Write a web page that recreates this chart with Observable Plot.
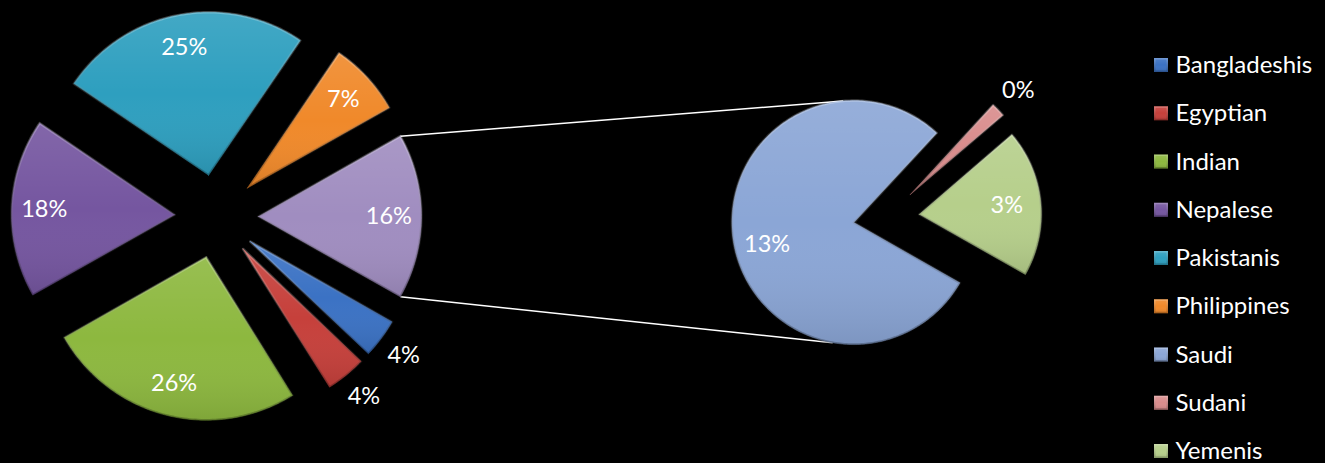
<!DOCTYPE html>
<html>
<head>
<meta charset="utf-8">
<script src="https://cdn.jsdelivr.net/npm/d3@7"></script>
<script src="https://cdn.jsdelivr.net/npm/@observablehq/plot@0.6"></script>
<style>
  html, body { margin: 0; padding: 0; background: #000; }
  #chart svg { display: block; background: #000; }
</style>
</head>
<body>
<div id="chart"></div>
<script>
// ---- Data ----
const mainCategories = ["Bangladeshis", "Egyptian", "Indian", "Nepalese", "Pakistanis", "Philippines"];
const mainValues = [3.9, 4.0, 25.7, 17.7, 25.0, 7.3];
const secondCategories = ["Saudi", "Sudani", "Yemenis"];
const secondValues = [12.9, 0.3, 3.2];
const legendLabels = ["Bangladeshis", "Egyptian", "Indian", "Nepalese", "Pakistanis", "Philippines", "Saudi", "Sudani", "Yemenis"];
const otherLabel = "Other";
const colorDomain = [...legendLabels, otherLabel];
const colorRange = ["#3b72c4", "#c6403b", "#8db83f", "#7556a0", "#2e9fbf", "#f0892a", "#8ba6d6", "#d98c8c", "#b6cf8b", "#a08dc0"];

// ---- Layout ----
const W = 1325, H = 463;
const pie1 = {cx: 216, cy: 216, r: 163, explode: 42};
const pie2 = {cx: 886, cy: 217, r: 122, explode: 33, start: 29.6};
const rad = d => d * Math.PI / 180;

const otherValue = d3.sum(secondValues);
const total1 = d3.sum(mainValues) + otherValue;

function slicesFor(cats, vals, total, startDeg, pie, kind) {
  const out = [];
  let a = startDeg;
  cats.forEach((c, i) => {
    const span = vals[i] / total * 360;
    const a0 = a, a1 = a + span, mid = (a0 + a1) / 2;
    const ax = pie.cx + pie.explode * Math.cos(rad(mid));
    const ay = pie.cy + pie.explode * Math.sin(rad(mid));
    out.push({key: c, value: vals[i], a0, a1, mid, ax, ay, pie, kind, span});
    a = a1;
  });
  return out;
}

const otherSpan = otherValue / total1 * 360;
const slices1 = slicesFor([otherLabel, ...mainCategories], [otherValue, ...mainValues], total1, -otherSpan / 2, pie1, "main");
const slices2 = slicesFor(secondCategories, secondValues, otherValue, pie2.start, pie2, "second");
const allSlices = [...slices1, ...slices2];

// polygon vertices for every slice
const poly = [];
allSlices.forEach((s, si) => {
  poly.push({id: si, key: s.key, x: s.ax, y: s.ay});
  const n = Math.max(2, Math.ceil(s.span));
  for (let k = 0; k <= n; k++) {
    const t = rad(s.a0 + (s.a1 - s.a0) * k / n);
    poly.push({id: si, key: s.key, x: s.ax + s.pie.r * Math.cos(t), y: s.ay + s.pie.r * Math.sin(t)});
  }
  poly.push({id: si, key: s.key, x: s.ax, y: s.ay});
});

// data labels
const labels = allSlices.map(s => {
  const outside = s.span < 20;
  const rr = outside ? s.pie.r + 28 : (s.kind === "main" ? 0.8 : 0.72) * s.pie.r;
  return {
    text: Math.round(s.value) + "%",
    x: s.ax + rr * Math.cos(rad(s.mid)),
    y: s.ay + rr * Math.sin(rad(s.mid)) + (s.key === "Saudi" ? 8 : 0)
  };
});

// connector lines from the "Other" slice to the second pie
const oth = slices1[0];
const saudi = slices2[0];
const connectors = [
  {x1: oth.ax + pie1.r * Math.cos(rad(oth.a0)), y1: oth.ay + pie1.r * Math.sin(rad(oth.a0)),
   x2: saudi.ax + pie2.r * Math.cos(rad(265)), y2: saudi.ay + pie2.r * Math.sin(rad(265))},
  {x1: oth.ax + pie1.r * Math.cos(rad(oth.a1)), y1: oth.ay + pie1.r * Math.sin(rad(oth.a1)),
   x2: saudi.ax + pie2.r * Math.cos(rad(100)), y2: saudi.ay + pie2.r * Math.sin(rad(100))}
];

// legend
const legendX = 1154, legendTop = 65, legendStep = 48.25, sw = 14;
const legend = legendLabels.map((k, i) => ({key: k, y: legendTop + i * legendStep}));

const font = "Lato, 'Open Sans', sans-serif";

const chart = Plot.plot({
  width: W,
  height: H,
  margin: 0,
  style: {background: "#000", fontFamily: font},
  x: {domain: [0, W], range: [0, W], axis: null},
  y: {domain: [0, H], range: [0, H], axis: null},
  color: {domain: colorDomain, range: colorRange},
  marks: [
    Plot.link(connectors, {x1: "x1", y1: "y1", x2: "x2", y2: "y2", stroke: "#fff", strokeWidth: 1.5}),
    Plot.line(poly, {x: "x", y: "y", z: "id", fill: "key", stroke: "key", strokeWidth: 0.5, curve: "linear-closed"}),
    // subtle bevel shading overlay
    Plot.line(poly, {x: "x", y: "y", z: "id", fill: "url(#bevel)", stroke: "url(#edge)", strokeWidth: 2.5, curve: "linear-closed", strokeLinejoin: "round"}),
    Plot.text(labels, {x: "x", y: "y", text: "text", fill: "#fff", fontSize: 23.5, textAnchor: "middle"}),
    Plot.rect(legend, {x1: legendX, x2: legendX + sw, y1: d => d.y - sw / 2, y2: d => d.y + sw / 2, fill: "key"}),
    Plot.rect(legend, {x1: legendX, x2: legendX + sw, y1: d => d.y - sw / 2, y2: d => d.y + sw / 2, fill: "url(#bevel)", stroke: "url(#edge)", strokeWidth: 1.5, inset: 0.75}),
    Plot.text(legend, {x: legendX + sw + 7, y: "y", text: "key", fill: "#fff", fontSize: 24, textAnchor: "start"})
  ]
});

// gradient definitions used by the overlay marks
const defs = d3.select(chart).insert("defs", ":first-child");
const g1 = defs.append("linearGradient").attr("id", "bevel").attr("x1", 0).attr("y1", 0).attr("x2", 0).attr("y2", 1);
g1.append("stop").attr("offset", "0%").attr("stop-color", "#fff").attr("stop-opacity", 0.10);
g1.append("stop").attr("offset", "50%").attr("stop-color", "#fff").attr("stop-opacity", 0);
g1.append("stop").attr("offset", "100%").attr("stop-color", "#000").attr("stop-opacity", 0.10);
const g2 = defs.append("linearGradient").attr("id", "edge").attr("x1", 0).attr("y1", 0).attr("x2", 0).attr("y2", 1);
g2.append("stop").attr("offset", "0%").attr("stop-color", "#fff").attr("stop-opacity", 0.25);
g2.append("stop").attr("offset", "100%").attr("stop-color", "#000").attr("stop-opacity", 0.25);

document.getElementById("chart").appendChild(chart);
</script>
</body>
</html>
